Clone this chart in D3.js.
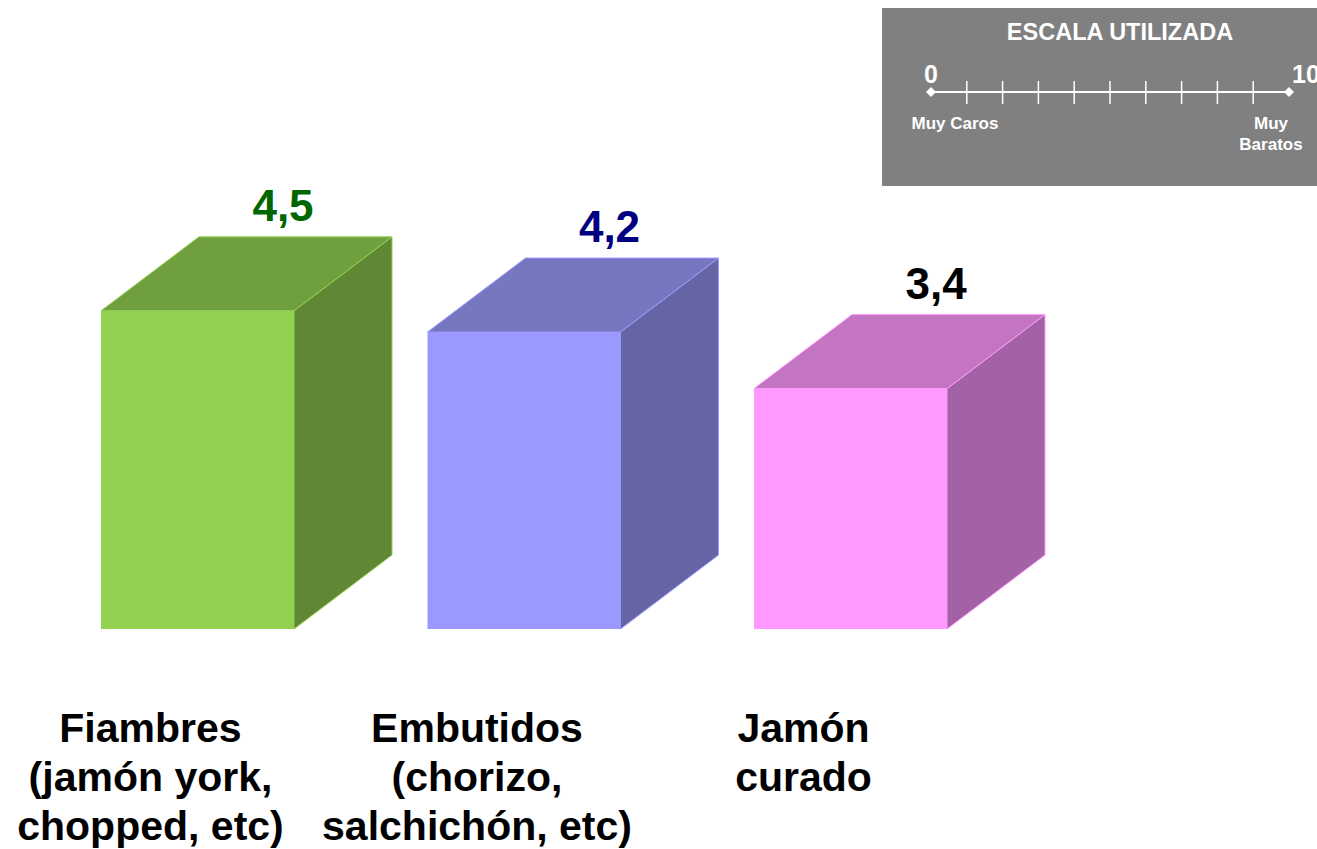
<!DOCTYPE html>
<html><head><meta charset="utf-8">
<script src="https://cdn.jsdelivr.net/npm/d3@7"></script>
<style>html,body{margin:0;padding:0;background:#fff;}svg{display:block;font-family:"Liberation Sans",Arial,sans-serif;}</style>
</head><body>
<svg id="c" width="1317" height="849"></svg>
<script>
const categories = ["Fiambres", "Embutidos", "Jamón curado"];
const categoryLines = [
  ["Fiambres", "(jamón york,", "chopped, etc)"],
  ["Embutidos", "(chorizo,", "salchichón, etc)"],
  ["Jamón", "curado"]
];
const values = [4.5, 4.2, 3.4];
const valueLabels = ["4,5", "4,2", "3,4"];
const frontColors = ["#92D050", "#9999FF", "#FF99FF"];
const topColors = ["#709F3E", "#7777C1", "#C475C1"];
const sideColors = ["#5F8734", "#6565A5", "#A362A5"];
const labelColors = ["#006600", "#000080", "#000000"];
const scaleTicks = [1,2,3,4,5,6,7,8,9];
const scaleEnds = [0, 10];
const legendTitle = "ESCALA UTILIZADA";

const svg = d3.select("#c");
const x = d3.scaleBand().domain(categories).range([101, 947]).paddingInner(0.409).paddingOuter(0);
const y = d3.scaleLinear().domain([0, 5]).range([629, 275.5]);
const dx = 98, dy = -74;

const g = svg.append("g");
categories.forEach((c, i) => {
  const x0 = x(c), x1 = x0 + x.bandwidth();
  const yb = y(0), yt = y(values[i]);
  const stroke = frontColors[i];
  g.append("path").attr("d", `M${x1},${yb}L${x1+dx},${yb+dy}L${x1+dx},${yt+dy}L${x1},${yt}Z`)
    .attr("fill", sideColors[i]).attr("stroke", stroke).attr("stroke-width", 1);
  g.append("path").attr("d", `M${x0},${yt}L${x0+dx},${yt+dy}L${x1+dx},${yt+dy}L${x1},${yt}Z`)
    .attr("fill", topColors[i]).attr("stroke", stroke).attr("stroke-width", 1);
  g.append("rect").attr("x", x0).attr("y", yt).attr("width", x.bandwidth()).attr("height", yb - yt)
    .attr("fill", frontColors[i]);
  g.append("text").attr("x", x0 + 182).attr("y", yt + dy - 16)
    .attr("text-anchor", "middle").attr("font-size", 44).attr("font-weight", "bold")
    .attr("fill", labelColors[i]).text(valueLabels[i]);
  const t = g.append("text").attr("text-anchor", "middle").attr("font-size", 41).attr("font-weight", "bold").attr("fill", "#000");
  categoryLines[i].forEach((ln, j) => {
    t.append("tspan").attr("x", x0 + x.bandwidth()/2 - 47).attr("y", 742 + j*49).text(ln);
  });
});

const lg = svg.append("g");
lg.append("rect").attr("x", 882).attr("y", 8).attr("width", 435).attr("height", 178).attr("fill", "#808080");
lg.append("text").attr("x", 1120).attr("y", 40).attr("text-anchor", "middle").attr("font-size", 23.5)
  .attr("font-weight", "bold").attr("fill", "#fff").text(legendTitle);
const s = d3.scaleLinear().domain([0, 10]).range([931, 1289]);
lg.append("line").attr("x1", s(0)).attr("x2", s(10)).attr("y1", 92).attr("y2", 92).attr("stroke", "#fff").attr("stroke-width", 2);
lg.selectAll(".tk").data(scaleTicks).enter().append("line")
  .attr("x1", d => s(d)).attr("x2", d => s(d)).attr("y1", 81).attr("y2", 104).attr("stroke", "#fff").attr("stroke-width", 1.5);
lg.selectAll(".dm").data(scaleEnds).enter().append("path")
  .attr("d", d => `M${s(d)},${92-5}L${s(d)+5},92L${s(d)},${92+5}L${s(d)-5},92Z`).attr("fill", "#fff");
lg.append("text").attr("x", s(0)).attr("y", 83).attr("text-anchor", "middle").attr("font-size", 25).attr("font-weight", "bold").attr("fill", "#fff").text(scaleEnds[0]);
lg.append("text").attr("x", 1292).attr("y", 83).attr("text-anchor", "start").attr("font-size", 25).attr("font-weight", "bold").attr("fill", "#fff").text(scaleEnds[1]);
lg.append("text").attr("x", 955).attr("y", 129).attr("text-anchor", "middle").attr("font-size", 17).attr("font-weight", "bold").attr("fill", "#fff").text("Muy Caros");
lg.append("text").attr("x", 1271).attr("y", 129).attr("text-anchor", "middle").attr("font-size", 17).attr("font-weight", "bold").attr("fill", "#fff").text("Muy");
lg.append("text").attr("x", 1271).attr("y", 150).attr("text-anchor", "middle").attr("font-size", 17).attr("font-weight", "bold").attr("fill", "#fff").text("Baratos");
</script>
</body></html>
